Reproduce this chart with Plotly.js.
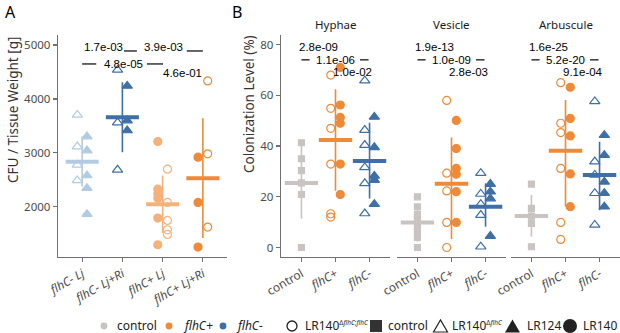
<!DOCTYPE html>
<html><head><meta charset="utf-8">
<script src="https://cdn.plot.ly/plotly-3.0.1.min.js"></script>
<style>html,body{margin:0;padding:0;background:#fff}</style>
</head><body><div id="chart" style="width:620px;height:333px"></div>
<script>
// ---------- Panel A data (CFU / tissue weight) ----------
const catsA = ['<i>flhC- Lj</i>', '<i>flhC- Lj+Ri</i>', '<i>flhC+ Lj</i>', '<i>flhC+ Lj+Ri</i>'];
const a_m_Lj_open     = [3704, 3117, 2778, 2488];
const a_m_Lj_filled   = [3302, 3043, 2580, 2346, 1864];
const a_m_LjRi_open   = [4537, 3562, 2685];
const a_m_LjRi_filled = [4241, 3599, 3414];
const a_p_Lj_filled   = [3210, 2327, 2241, 2160, 1790, 1296];
const a_p_Lj_open     = [2698, 2080, 1747, 1574, 1488];
const a_p_LjRi_filled = [2920, 2080, 1253];
const a_p_LjRi_open   = [4333, 2981, 1623];
const meanA = [2833, 3660, 2049, 2531];
const lowA  = [2377, 3012, 1512, 1420];
const highA = [3302, 4309, 2580, 3642];
const pA = ['1.7e-03', '3.9e-03', '4.8e-05', '4.6e-01'];
const tickValsA = [2000, 3000, 4000, 5000];

// ---------- Panel B data (colonization %) ----------
const catsB = ['control', '<i>flhC+</i>', '<i>flhC-</i>'];
const facets = ['Hyphae', 'Vesicle', 'Arbuscule'];
// Hyphae
const h_control   = [41.3, 35, 30.3, 25.5, 20.9, 0];
const h_p_open    = [68, 54.9, 47, 32.9, 13.3, 12];
const h_p_filled  = [71, 56.2, 51.3, 49, 32.9, 20.9];
const h_m_open    = [65.8, 46.3, 40.4, 31.6, 25.3, 13.4];
const h_m_filled  = [51.5, 39.5, 28.2, 26.6, 17.1];
// Vesicle
const v_control   = [20, 16, 13, 11, 8, 6, 4, 0];
const v_p_open    = [58, 29.3, 22.3, 9.9, 0];
const v_p_filled  = [50.1, 39, 31.2, 28.9, 22, 9.9];
const v_m_open    = [29.3, 21.1, 17.1, 12.8, 0.3];
const v_m_filled  = [25, 22, 19.3, 4.5];
// Arbuscule
const r_control   = [25, 15.4, 12.4, 9.5, 0.3];
const r_p_open    = [65, 49, 45.3, 31.2, 9.9, 3.2];
const r_p_filled  = [63.2, 50.9, 44, 29, 16.1];
const r_m_open    = [57.6, 33.9, 28.6, 21.4, 8.9];
const r_m_filled  = [44.3, 36.4, 25.9, 21.4, 16.1];
// summaries (mean, low, high) per facet: [control, flhC+, flhC-]
const meanB = [[25.4, 42.4, 34.1], [9.9, 25.1, 16.1], [12.4, 38.2, 28.6]];
const lowB  = [[11.4, 22.4, 19.3], [2.3, 3.3, 8.2], [4.3, 16.1, 14.7]];
const highB = [[41.7, 62.4, 49.2], [17.2, 43.4, 25.3], [20.7, 58.2, 41.7]];
const pB = [['2.8e-09', '1.1e-06', '1.0e-02'], ['1.9e-13', '1.0e-09', '2.8e-03'], ['1.6e-25', '5.2e-20', '9.1e-04']];
const tickValsB = [0, 20, 40, 60, 80];

// ---------- styling ----------
const W = 620, H = 333;
const px = x => x / W, py = y => 1 - y / H;
const C = {lb: '#b3cbe2', db: '#3e6fa5', lo: '#f5b17a', or: '#ef8a38', gr: '#c9c4c1'};
const FONT = 'Noto Sans, sans-serif';
const PF = 'Liberation Sans, Arial, sans-serif';
const axisCol = '#707070';

const traces = [];
function pts(xa, ya, cat, off, vals, symbol, color, size) {
  traces.push({type: 'scatter', mode: 'markers', xaxis: xa, yaxis: ya,
    x: vals.map(() => cat + off), y: vals, showlegend: false, hoverinfo: 'skip',
    marker: {symbol: symbol, color: color, size: size, line: {color: color, width: 1.2}}});
}
function summ(xa, ya, cat, hw, m, lo, hi, color) {
  traces.push({type: 'scatter', mode: 'lines', xaxis: xa, yaxis: ya, x: [cat, cat], y: [lo, hi],
    line: {color: color, width: 1.6}, showlegend: false, hoverinfo: 'skip'});
  traces.push({type: 'scatter', mode: 'lines', xaxis: xa, yaxis: ya, x: [cat - hw, cat + hw], y: [m, m],
    line: {color: color, width: 4}, showlegend: false, hoverinfo: 'skip'});
}

// Panel A
const oA = 0.12;
pts('x', 'y', 0, -oA, a_m_Lj_open, 'triangle-up-open', C.lb, 9);
pts('x', 'y', 0, oA, a_m_Lj_filled, 'triangle-up', C.lb, 9);
pts('x', 'y', 1, -oA, a_m_LjRi_open, 'triangle-up-open', C.db, 9);
pts('x', 'y', 1, oA, a_m_LjRi_filled, 'triangle-up', C.db, 9);
pts('x', 'y', 2, -oA, a_p_Lj_filled, 'circle', C.lo, 8);
pts('x', 'y', 2, oA, a_p_Lj_open, 'circle-open', C.lo, 8);
pts('x', 'y', 3, -oA, a_p_LjRi_filled, 'circle', C.or, 8);
pts('x', 'y', 3, oA, a_p_LjRi_open, 'circle-open', C.or, 8);
const colA = [C.lb, C.db, C.lo, C.or];
for (let i = 0; i < 4; i++) summ('x', 'y', i, 0.41, meanA[i], lowA[i], highA[i], colA[i]);

// Panel B
const oB = 0.14;
const bData = [
  [h_control, h_p_open, h_p_filled, h_m_open, h_m_filled],
  [v_control, v_p_open, v_p_filled, v_m_open, v_m_filled],
  [r_control, r_p_open, r_p_filled, r_m_open, r_m_filled]];
const colB = [C.gr, C.or, C.db];
for (let f = 0; f < 3; f++) {
  const xa = 'x' + (f + 2), ya = 'y' + (f + 2);
  const d = bData[f];
  pts(xa, ya, 0, 0, d[0], 'square', C.gr, 6);
  pts(xa, ya, 1, -oB, d[1], 'circle-open', C.or, 8);
  pts(xa, ya, 1, oB, d[2], 'circle', C.or, 8);
  pts(xa, ya, 2, -oB, d[3], 'triangle-up-open', C.db, 9);
  pts(xa, ya, 2, oB, d[4], 'triangle-up', C.db, 9);
  for (let i = 0; i < 3; i++) summ(xa, ya, i, 0.49, meanB[f][i], lowB[f][i], highB[f][i], colB[i]);
}

// ---------- axes ----------
const yDom = [py(257), py(35)];
const xTickFont = {family: FONT, size: 12, color: '#4d4d4d'};
const yTickFont = {family: FONT, size: 11.5, color: '#4d4d4d'};
function xax(dom, n, labels, anchor) {
  return {domain: [px(dom[0]), px(dom[1])], range: [-0.6, n - 0.4], anchor: anchor,
    tickvals: labels.map((_, i) => i), ticktext: labels, tickangle: -30, tickfont: xTickFont,
    showline: true, linecolor: axisCol, linewidth: 1.3, ticks: 'outside', ticklen: 4,
    tickcolor: axisCol, tickwidth: 1.2, showgrid: false, zeroline: false, fixedrange: true};
}
function yax(range, tv, anchor, show) {
  return {domain: yDom, range: range, anchor: anchor, tickvals: tv, tickfont: yTickFont,
    showline: show, linecolor: axisCol, linewidth: 1.3, ticks: show ? 'outside' : '', ticklen: 4,
    tickcolor: axisCol, tickwidth: 1.2, showticklabels: show, showgrid: false, zeroline: false, fixedrange: true};
}
const rangeB = [-3.75, 83.8];
const layout = {
  width: W, height: H, margin: {l: 0, r: 0, t: 0, b: 0}, paper_bgcolor: '#fff', plot_bgcolor: 'rgba(0,0,0,0)',
  showlegend: false, font: {family: FONT},
  xaxis: xax([58, 227], 4, catsA, 'y'),
  yaxis: yax([1069, 5185], tickValsA, 'x', true),
  xaxis2: xax([281, 390], 3, catsB, 'y2'),
  yaxis2: yax(rangeB, tickValsB, 'x2', true),
  xaxis3: xax([397, 506], 3, catsB, 'y3'),
  yaxis3: yax(rangeB, tickValsB, 'x3', false),
  xaxis4: xax([511, 620], 3, catsB, 'y4'),
  yaxis4: yax(rangeB, tickValsB, 'x4', false),
  shapes: [], annotations: []
};

// panel letters, axis titles, facet titles
const ann = layout.annotations, shp = layout.shapes;
ann.push({xref: 'paper', yref: 'paper', x: px(10), y: py(12), text: 'A', showarrow: false, font: {family: FONT, size: 16, color: '#000'}, xanchor: 'center', yanchor: 'middle'});
ann.push({xref: 'paper', yref: 'paper', x: px(237), y: py(12), text: 'B', showarrow: false, font: {family: FONT, size: 16, color: '#000'}, xanchor: 'center', yanchor: 'middle'});
ann.push({xref: 'paper', yref: 'paper', x: px(13), y: py(110), text: 'CFU / Tissue Weight [g]', textangle: -90, showarrow: false, font: {family: FONT, size: 13.5, color: '#333'}, xanchor: 'center', yanchor: 'middle'});
ann.push({xref: 'paper', yref: 'paper', x: px(249), y: py(104), text: 'Colonization Level (%)', textangle: -90, showarrow: false, font: {family: FONT, size: 13.5, color: '#333'}, xanchor: 'center', yanchor: 'middle'});
const facetCx = [335.5, 451.5, 565.5];
facets.forEach((t, i) => ann.push({xref: 'paper', yref: 'paper', x: px(facetCx[i]), y: py(25), text: t, showarrow: false, font: {family: FONT, size: 11.5, color: '#1a1a1a'}, xanchor: 'center', yanchor: 'middle'}));

// significance labels
function ptxt(xa, ya, x, y, t) {
  ann.push({xref: xa, yref: ya, x: x, y: y, text: t, showarrow: false, font: {family: PF, size: 11.5, color: '#000'}, xanchor: 'center', yanchor: 'middle'});
}
function seg(xa, ya, x0, x1, y) {
  shp.push({type: 'line', xref: xa, yref: ya, x0: x0, x1: x1, y0: y, y1: y, line: {color: '#000', width: 1.2}});
}
// panel A
ptxt('x', 'y', 0.52, 4963, pA[0]);
ptxt('x', 'y', 2.02, 4963, pA[1]);
seg('x', 'y', 1.04, 1.36, 4889); seg('x', 'y', 2.6, 3.0, 4889);
ptxt('x', 'y', 1.02, 4648, pA[2]);
seg('x', 'y', 0, 0.35, 4648); seg('x', 'y', 1.61, 2.01, 4648);
ptxt('x', 'y', 2.5, 4481, pA[3]);
// panel B
for (let f = 0; f < 3; f++) {
  const xa = 'x' + (f + 2), ya = 'y' + (f + 2);
  ptxt(xa, ya, 0.49, 79.2, pB[f][0]);
  ptxt(xa, ya, 1.0, 74.0, pB[f][1]);
  seg(xa, ya, 0, 0.24, 74.0); seg(xa, ya, 1.72, 1.97, 74.0);
  ptxt(xa, ya, 1.5, 69.3, pB[f][2]);
}

// ---------- legend (keys as shapes, labels as text) ----------
const LY = 326, TY = 325;
const legFont = {family: FONT, size: 12, color: '#222'};
function circ(cx, r, fill, line) {
  shp.push({type: 'circle', xref: 'paper', yref: 'paper', x0: px(cx - r), x1: px(cx + r), y0: py(LY + r), y1: py(LY - r),
    fillcolor: fill, line: line ? {color: line, width: 1.3} : {width: 0}});
}
function tri(cx, w, h, fill, line) {
  const p = `M ${px(cx - w / 2)},${py(LY + h / 2)} L ${px(cx + w / 2)},${py(LY + h / 2)} L ${px(cx)},${py(LY - h / 2)} Z`;
  shp.push({type: 'path', xref: 'paper', yref: 'paper', path: p, fillcolor: fill, line: line ? {color: line, width: 1.2} : {width: 0}});
}
function ltxt(x, t) {
  ann.push({xref: 'paper', yref: 'paper', x: px(x), y: py(TY), text: t, showarrow: false, font: legFont,
    xanchor: 'left', yanchor: 'middle', borderpad: 0});
}
const supS = s => '<sup><span style="font-size:6.5px">' + s + '</span></sup>';
circ(104, 3.4, C.gr); ltxt(116, 'control');
circ(169, 3.4, C.or); ltxt(182, '<i>flhC+</i>');
circ(223, 3.4, C.db); ltxt(235, '<i>flhC-</i>');
circ(292, 5, 'rgba(0,0,0,0)', '#222'); ltxt(304, 'LR140' + supS('Δ<i>flhC</i>;<i>flhC</i>'));
shp.push({type: 'rect', xref: 'paper', yref: 'paper', x0: px(370), x1: px(382), y0: py(332), y1: py(320), fillcolor: '#333', line: {width: 0}});
ltxt(387, 'control');
tri(440.5, 14, 12, 'rgba(0,0,0,0)', '#222'); ltxt(451, 'LR140' + supS('Δ<i>flhC</i>'));
tri(512.5, 15, 13, '#222'); ltxt(526, 'LR124');
circ(570, 7, '#222'); ltxt(582, 'LR140');

Plotly.newPlot('chart', traces, layout, {staticPlot: true, displayModeBar: false});
</script></body></html>
